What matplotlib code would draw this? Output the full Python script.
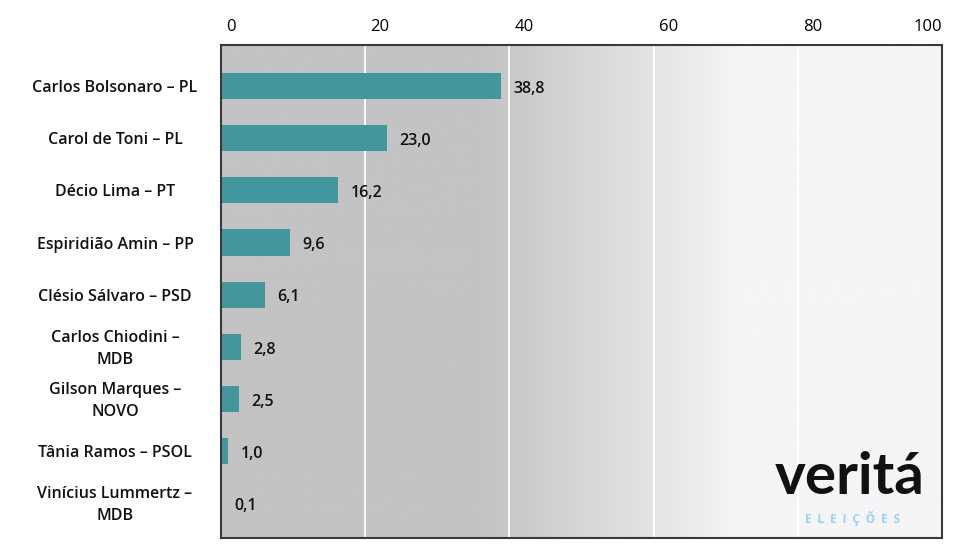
import matplotlib
matplotlib.use("Agg")
import matplotlib.pyplot as plt
import matplotlib.transforms as mtransforms
import numpy as np

candidates = [
    "Carlos Bolsonaro – PL",
    "Carol de Toni – PL",
    "Décio Lima – PT",
    "Espiridião Amin – PP",
    "Clésio Sálvaro – PSD",
    "Carlos Chiodini –\nMDB",
    "Gilson Marques –\nNOVO",
    "Tânia Ramos – PSOL",
    "Vinícius Lummertz –\nMDB",
]
values = [38.8, 23.0, 16.2, 9.6, 6.1, 2.8, 2.5, 1.0, 0.1]
value_labels = ["38,8", "23,0", "16,2", "9,6", "6,1", "2,8", "2,5", "1,0", "0,1"]
x_ticks = [0, 20, 40, 60, 80, 100]

plt.rcParams['font.family'] = ['Open Sans', 'DejaVu Sans']

fig = plt.figure(figsize=(9.70, 5.58), dpi=100)
ax = fig.add_axes([221/970, 1-538/558, (942-221)/970, (538-45)/558])

# gradient background
xs = np.linspace(0, 1, 400)
left_c = np.array([195, 195, 195]) / 255
right_c = np.array([245, 245, 247]) / 255
t = np.clip((xs - 0.36) / (0.72 - 0.36), 0, 1)
grad = left_c[None, :] * (1 - t[:, None]) + right_c[None, :] * t[:, None]
img = grad[None, :, :]
ax.imshow(img, extent=[0, 1, 0, 1], transform=ax.transAxes, aspect='auto', zorder=0)

y = np.arange(len(values))
ax.barh(y, values, height=0.5, color='#43969c', zorder=3)

ax.set_xlim(0, 100)
ax.set_ylim(len(values) - 1 + 0.67, -0.79)

for xv in x_ticks[1:-1]:
    ax.axvline(xv, color='white', lw=1.3, zorder=1)

ax.set_xticks(x_ticks)
ax.xaxis.tick_top()
ax.tick_params(axis='x', length=0, pad=7, labelsize=12)
ax.set_xticklabels([str(v) for v in x_ticks])
for i, lab in enumerate(ax.get_xticklabels()):
    if i == len(x_ticks) - 1:
        lab.set_horizontalalignment('right')
    else:
        lab.set_horizontalalignment('left')
        lab.set_transform(lab.get_transform() + mtransforms.ScaledTranslation(5/100, 0, fig.dpi_scale_trans))

ax.set_yticks([])
for s in ax.spines.values():
    s.set_color('#3a3a3a')
    s.set_linewidth(1.5)
    s.set_zorder(5)

# category labels
for yi, name in zip(y, candidates):
    ax.text(-0.147, yi + 0.04, name, transform=ax.get_yaxis_transform(), ha='center', va='center',
            multialignment='center', fontsize=11.5, fontweight='semibold', color='#111111',
            linespacing=1.55)

# value labels
for yi, v, lab in zip(y, values, value_labels):
    ax.annotate(lab, xy=(v, yi), xytext=(9, -2), textcoords='offset points',
                ha='left', va='center', fontsize=11.5, fontweight='semibold', color='#111111')

# logo
ax.text(0.872, 0.089, "veritá", transform=ax.transAxes, ha='center', va='baseline',
        fontsize=42, fontweight='bold', color='#111111', family=['Lato', 'DejaVu Sans'], zorder=6)
ax.text(0.876, 0.040, "E  L  E  I  Ç  Õ  E  S", transform=ax.transAxes, ha='center', va='center',
        fontsize=8.5, fontweight='bold', color='#9dd1f2', zorder=6)

fig.savefig("out.png", dpi=100)
